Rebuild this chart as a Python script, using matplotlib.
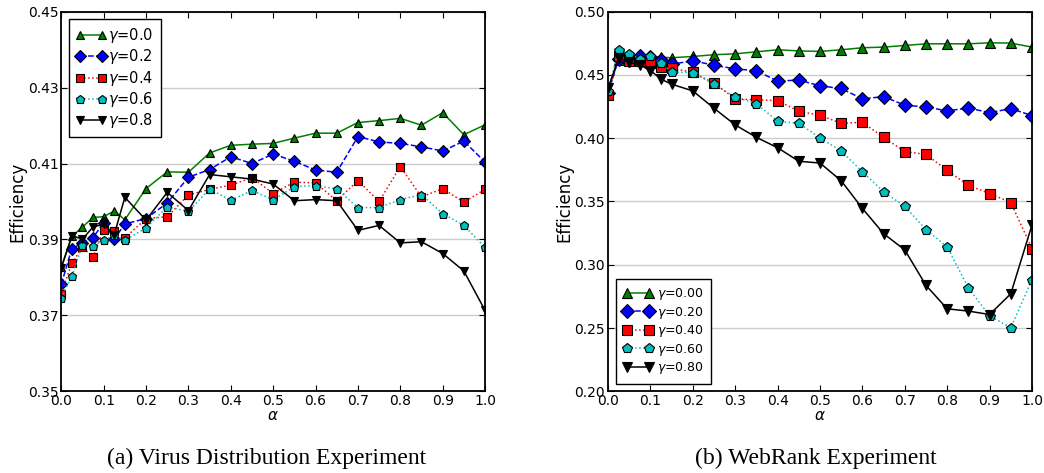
import numpy as np
import matplotlib
matplotlib.use("Agg")
import matplotlib.pyplot as plt

# alpha sweep, shared by both experiments
alphas = [0.0, 0.025, 0.05, 0.075, 0.1, 0.125, 0.15, 0.2, 0.25, 0.3, 0.35, 0.4,
          0.45, 0.5, 0.55, 0.6, 0.65, 0.7, 0.75, 0.8, 0.85, 0.9, 0.95, 1.0]

# virus distribution efficiency, one list per gamma
virus_g00 = [0.3827, 0.3908, 0.3933, 0.3958, 0.3960, 0.3975, 0.3952, 0.4034, 0.4078, 0.4077, 0.4128, 0.4148,
             0.4151, 0.4153, 0.4167, 0.4180, 0.4180, 0.4208, 0.4213, 0.4219, 0.4201, 0.4234, 0.4176, 0.4202]
virus_g02 = [0.3782, 0.3876, 0.3890, 0.3905, 0.3944, 0.3901, 0.3941, 0.3955, 0.3996, 0.4064, 0.4084, 0.4118,
             0.4100, 0.4125, 0.4106, 0.4083, 0.4077, 0.4171, 0.4157, 0.4153, 0.4144, 0.4133, 0.4159, 0.4104]
virus_g04 = [0.3757, 0.3838, 0.3879, 0.3854, 0.3925, 0.3922, 0.3904, 0.3955, 0.3960, 0.4017, 0.4032, 0.4043,
             0.4063, 0.4021, 0.4051, 0.4049, 0.4002, 0.4055, 0.4000, 0.4092, 0.4012, 0.4034, 0.3998, 0.4032]
virus_g06 = [0.3746, 0.3803, 0.3886, 0.3883, 0.3898, 0.3911, 0.3898, 0.3930, 0.3986, 0.3974, 0.4033, 0.4003,
             0.4029, 0.4004, 0.4039, 0.4042, 0.4033, 0.3984, 0.3984, 0.4005, 0.4018, 0.3968, 0.3937, 0.3879]
virus_g08 = [0.3825, 0.3910, 0.3901, 0.3933, 0.3940, 0.3913, 0.4011, 0.3951, 0.4024, 0.3976, 0.4071, 0.4065,
             0.4059, 0.4046, 0.4002, 0.4005, 0.4002, 0.3924, 0.3937, 0.3891, 0.3894, 0.3863, 0.3817, 0.3713]

# webrank efficiency
web_g00 = [0.4382, 0.4620, 0.4625, 0.4651, 0.4646, 0.4640, 0.4636, 0.4646, 0.4660, 0.4667, 0.4683, 0.4699,
           0.4690, 0.4686, 0.4699, 0.4715, 0.4720, 0.4733, 0.4746, 0.4746, 0.4746, 0.4754, 0.4752, 0.4720]
web_g02 = [0.4356, 0.4630, 0.4620, 0.4646, 0.4640, 0.4620, 0.4585, 0.4612, 0.4577, 0.4548, 0.4533, 0.4451,
           0.4460, 0.4414, 0.4393, 0.4311, 0.4329, 0.4261, 0.4247, 0.4216, 0.4239, 0.4202, 0.4234, 0.4179]
web_g04 = [0.4342, 0.4651, 0.4607, 0.4610, 0.4593, 0.4559, 0.4554, 0.4520, 0.4435, 0.4311, 0.4303, 0.4298,
           0.4213, 0.4181, 0.4118, 0.4126, 0.4007, 0.3894, 0.3872, 0.3746, 0.3627, 0.3563, 0.3492, 0.3128]
web_g06 = [0.4370, 0.4699, 0.4665, 0.4628, 0.4651, 0.4593, 0.4522, 0.4519, 0.4427, 0.4324, 0.4274, 0.4134,
           0.4118, 0.4002, 0.3899, 0.3735, 0.3577, 0.3461, 0.3278, 0.3141, 0.2816, 0.2597, 0.2502, 0.2882]
web_g08 = [0.4395, 0.4633, 0.4599, 0.4580, 0.4535, 0.4467, 0.4427, 0.4374, 0.4237, 0.4105, 0.4007, 0.3925,
           0.3818, 0.3804, 0.3664, 0.3445, 0.3246, 0.3117, 0.2837, 0.2652, 0.2634, 0.2607, 0.2771, 0.3315]

virus_labels = ["0.0", "0.2", "0.4", "0.6", "0.8"]
web_labels = ["0.00", "0.20", "0.40", "0.60", "0.80"]

styles = [("g", "-", "^"), ("b", "--", "D"), ("r", ":", "s"), ("c", ":", "p"), ("k", "-", "v")]

plt.rcParams.update({
    "font.size": 10,
    "axes.linewidth": 1.3,
    "xtick.direction": "in",
    "ytick.direction": "in",
    "xtick.top": True,
    "ytick.right": True,
    "xtick.major.size": 4,
    "ytick.major.size": 4,
    "xtick.major.pad": 2,
    "ytick.major.pad": 2,
})

fig = plt.figure(figsize=(10.44, 4.73), dpi=100)
ax1 = fig.add_axes([0.0587, 0.1727, 0.4059, 0.8026])
ax2 = fig.add_axes([0.5824, 0.1727, 0.4061, 0.8026])


def draw(ax, series, labels, ms):
    for ys, lab, (col, ls, mk) in zip(series, labels, styles):
        ax.plot(alphas, ys, color=col, linestyle=ls, marker=mk, markersize=ms,
                markeredgecolor="k", markeredgewidth=0.8, linewidth=1.1,
                label=r"$\gamma$=" + lab)
    ax.set_xlim(0, 1)
    ax.set_xticks(np.arange(0, 1.01, 0.1))
    ax.set_xticklabels(["%.1f" % t for t in np.arange(0, 1.01, 0.1)])
    ax.yaxis.grid(True, color="0.8", linestyle="-", linewidth=1)
    ax.set_axisbelow(True)
    ax.set_xlabel(r"$\alpha$", labelpad=0, fontsize=11)
    ax.set_ylabel("Efficiency", fontsize=12, labelpad=1)


draw(ax1, [virus_g00, virus_g02, virus_g04, virus_g06, virus_g08], virus_labels, 6.4)
ax1.set_ylim(0.35, 0.45)
ax1.set_yticks([0.35, 0.37, 0.39, 0.41, 0.43, 0.45])
ax1.set_yticklabels(["0.35", "0.37", "0.39", "0.41", "0.43", "0.45"])
leg1 = ax1.legend(loc="upper left", numpoints=2, handlelength=2.1, fontsize=10.5,
                  fancybox=False, framealpha=1, edgecolor="k", borderpad=0.5,
                  labelspacing=0.15, handletextpad=0.1, borderaxespad=0.5)
leg1.get_frame().set_linewidth(1.0)

draw(ax2, [web_g00, web_g02, web_g04, web_g06, web_g08], web_labels, 6.9)
ax2.set_ylim(0.20, 0.50)
ax2.set_yticks([0.20, 0.25, 0.30, 0.35, 0.40, 0.45, 0.50])
ax2.set_yticklabels(["0.20", "0.25", "0.30", "0.35", "0.40", "0.45", "0.50"])
leg2 = ax2.legend(loc="lower left", numpoints=2, handlelength=2.4, fontsize=9,
                  fancybox=False, framealpha=1, edgecolor="k", borderpad=0.6,
                  labelspacing=0.2, handletextpad=0.3, borderaxespad=0.6)
leg2.get_frame().set_linewidth(1.0)

fig.text(0.255, 0.03, "(a) Virus Distribution Experiment", ha="center", va="center",
         family="Liberation Serif", fontsize=17)
fig.text(0.781, 0.03, "(b) WebRank Experiment", ha="center", va="center",
         family="Liberation Serif", fontsize=17)

fig.savefig("out.png", dpi=100)
